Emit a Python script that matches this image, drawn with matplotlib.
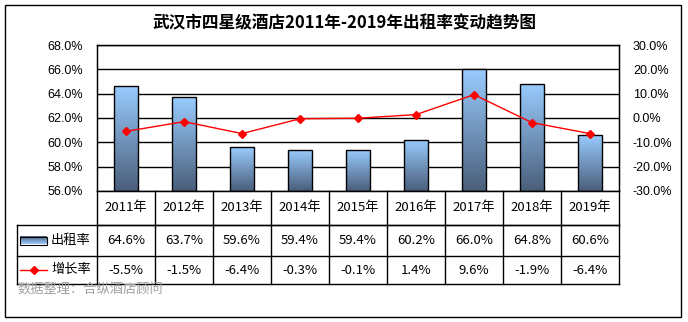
import matplotlib
matplotlib.use('Agg')
import matplotlib.pyplot as plt
import numpy as np
from matplotlib.colors import LinearSegmentedColormap
from matplotlib.patches import Rectangle
from matplotlib.ticker import FuncFormatter

plt.rcParams['font.family'] = ['Noto Sans CJK SC', 'DejaVu Sans']

# 数据
years = ['2011年', '2012年', '2013年', '2014年', '2015年', '2016年', '2017年', '2018年', '2019年']
occupancy = [64.6, 63.7, 59.6, 59.4, 59.4, 60.2, 66.0, 64.8, 60.6]
growth = [-5.5, -1.5, -6.4, -0.3, -0.1, 1.4, 9.6, -1.9, -6.4]
title = '武汉市四星级酒店2011年-2019年出租率变动趋势图'
source = '数据整理：合纵酒店顾问'

W, H = 688, 322
fig = plt.figure(figsize=(W / 100, H / 100), dpi=100)

# 外框
fig.patches.append(Rectangle((5 / W, 1 - 317 / H), 676 / W, 312 / H,
                             transform=fig.transFigure, fill=False,
                             edgecolor='black', linewidth=1))

fig.text(344 / W, 1 - 23 / H, title, ha='center', va='center',
         fontsize=12, fontweight='bold')

# 主图区
ax = fig.add_axes([97 / W, 1 - 191 / H, 522 / W, 146 / H])
x = np.arange(len(years))
ax.set_xlim(-0.5, len(years) - 0.5)
ax.set_ylim(56, 68)
ax.set_yticks(np.arange(56, 68.1, 2))
ax.yaxis.set_major_formatter(FuncFormatter(lambda v, p: f'{v:.1f}%'))
ax.set_xticks([])
ax.tick_params(axis='y', length=0, pad=10, labelsize=9)
for lab in ax.get_yticklabels():
    lab.set_fontfamily('Liberation Sans')
ax.grid(axis='y', color='black', linewidth=1)
ax.set_axisbelow(True)
for s in ax.spines.values():
    s.set_linewidth(1)

cmap = LinearSegmentedColormap.from_list('bar', ['#4a5e7a', '#99ccff'])
grad = np.linspace(0, 1, 256).reshape(-1, 1)
bars = ax.bar(x, np.array(occupancy) - 56, bottom=56, width=0.42,
              facecolor='none', edgecolor='black', linewidth=1, zorder=3)
for b in bars:
    x0, y0 = b.get_x(), b.get_y()
    im = ax.imshow(grad, cmap=cmap, aspect='auto', origin='lower',
                   extent=[x0, x0 + b.get_width(), y0, y0 + b.get_height()],
                   zorder=2.5)
    im.set_clip_path(b)
ax.set_xlim(-0.5, len(years) - 0.5)
ax.set_ylim(56, 68)

ax2 = ax.twinx()
ax2.set_ylim(-30, 30)
ax2.set_yticks(np.arange(-30, 31, 10))
ax2.yaxis.set_major_formatter(FuncFormatter(lambda v, p: f'{v:.1f}%'))
ax2.tick_params(axis='y', length=0, pad=10, labelsize=9)
for lab in ax2.get_yticklabels():
    lab.set_fontfamily('Liberation Sans')
ax2.plot(x, growth, color='red', linewidth=1, marker='D', markersize=4, zorder=5)

# 数据表
col_w = 522 / len(years)
leg_w = 80 / col_w
tab = fig.add_axes([17 / W, 1 - 284 / H, 602 / W, 93 / H])
tab.set_xlim(-0.5 - leg_w, len(years) - 0.5)
tab.set_ylim(93, 0)
tab.axis('off')
rows = [0, 34, 65, 93]
left = -0.5 - leg_w
right = len(years) - 0.5
kw = dict(color='black', linewidth=1, clip_on=False)
tab.plot([-0.5, right], [rows[1], rows[1]], **kw)
tab.plot([left, right], [rows[1], rows[1]], **kw)
tab.plot([left, right], [rows[2], rows[2]], **kw)
tab.plot([left, right], [rows[3], rows[3]], **kw)
tab.plot([left, left], [rows[1], rows[3]], **kw)
for i in range(len(years) + 1):
    tab.plot([i - 0.5, i - 0.5], [rows[0], rows[3]], **kw)

fs = 9.5
for i, (yr, oc, gr) in enumerate(zip(years, occupancy, growth)):
    tab.text(i, (rows[0] + rows[1]) / 2, yr, ha='center', va='center', fontsize=fs)
    tab.text(i, (rows[1] + rows[2]) / 2, f'{oc:.1f}%', ha='center', va='center', fontsize=fs)
    tab.text(i, (rows[2] + rows[3]) / 2, f'{gr:.1f}%', ha='center', va='center', fontsize=fs)

# 表中图例
sx0 = left + 3 / col_w
sx1 = left + 30 / col_w
ym = (rows[1] + rows[2]) / 2
sym = tab.imshow(grad, cmap=cmap, aspect='auto', origin='upper',
                 extent=[sx0, sx1, ym + 4, ym - 4])
tab.add_patch(Rectangle((sx0, ym - 4), sx1 - sx0, 8, fill=False,
                        edgecolor='black', linewidth=0.8))
tab.set_xlim(left, right)
tab.set_ylim(93, 0)
ym2 = (rows[2] + rows[3]) / 2
tab.plot([sx0, sx1], [ym2, ym2], color='red', linewidth=1)
tab.plot([(sx0 + sx1) / 2], [ym2], color='red', marker='D', markersize=4)
tab.text(sx1 + 4 / col_w, ym, '出租率', ha='left', va='center', fontsize=fs)
tab.text(sx1 + 4 / col_w, ym2, '增长率', ha='left', va='center', fontsize=fs)

fig.text(17 / W, 1 - 289 / H, source, ha='left', va='center',
         fontsize=9.5, color='#a0a0a0')

fig.savefig('out.png', dpi=100)
